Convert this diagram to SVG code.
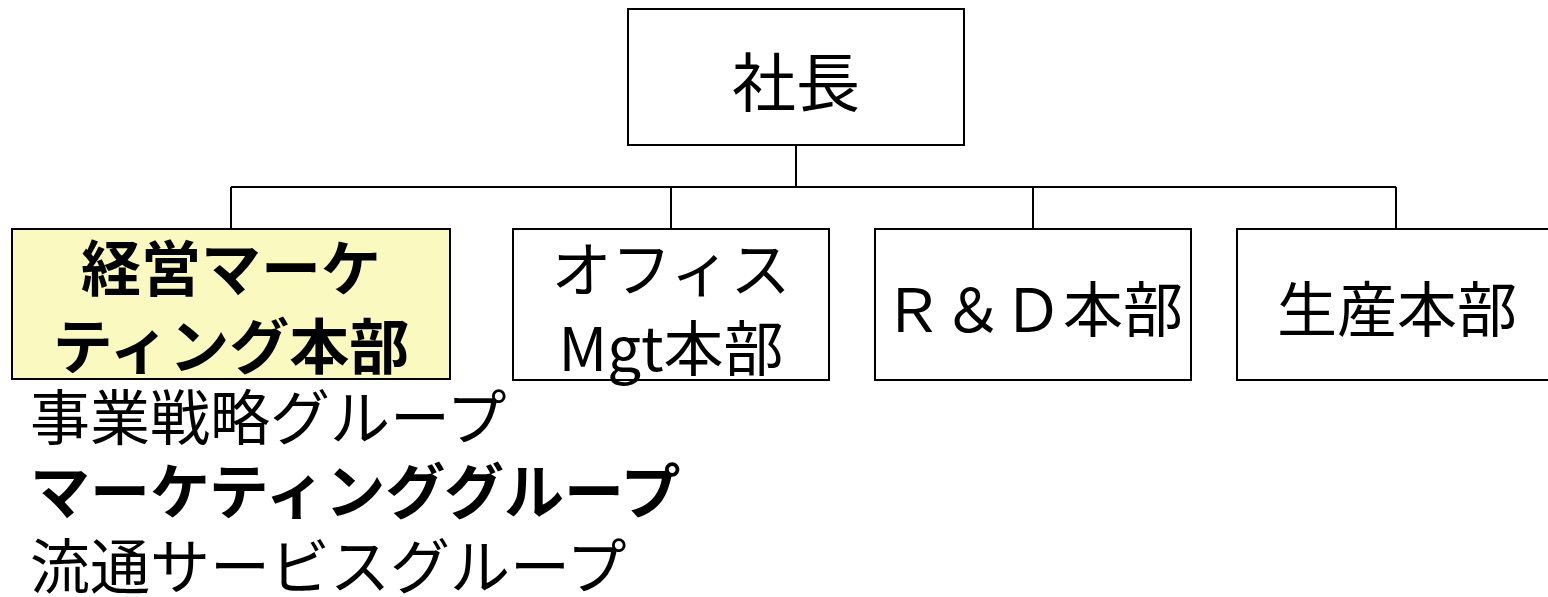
<svg xmlns="http://www.w3.org/2000/svg" width="1548" height="597" viewBox="0 0 1548 597">
<style>
.box{fill:#ffffff;stroke:#000;stroke-width:2}
.hl{fill:#fafac0}
.t{font-family:"Noto Sans CJK JP","Noto Sans CJK SC",sans-serif;font-size:60px;fill:#000;text-anchor:middle}
.l{font-family:"Noto Sans CJK JP","Noto Sans CJK SC",sans-serif;font-size:60px;fill:#000}
.b{font-weight:bold}
.c{fill:none;stroke:#000;stroke-width:2}
</style>
<rect width="1548" height="597" fill="#fff"/>
<g id="connectors">
<path class="c" d="M796 145V187M231 187H1396M231 187V229M671 187V229M1033 187V229M1396 187V229"/>
</g>
<g id="president">
<rect class="box" x="628" y="9" width="336" height="136"/>
<text class="t" x="796" y="106" style="font-size:64px">社長</text>
</g>
<g id="marketing">
<rect class="box hl" x="12" y="229" width="438" height="150"/>
<text class="t b" x="231" y="291">経営マーケ</text>
<text class="t b" x="231" y="369">ティング本部</text>
</g>
<g id="office">
<rect class="box" x="513" y="229" width="316" height="151"/>
<text class="t" x="671" y="292">オフィス</text>
<text class="t" x="671" y="371">Mgt本部</text>
</g>
<g id="rd">
<rect class="box" x="875" y="229" width="316" height="151"/>
<text class="t" x="1033" y="332">Ｒ＆Ｄ本部</text>
</g>
<g id="production">
<rect class="box" x="1237" y="229" width="320" height="151"/>
<text class="t" x="1397" y="332">生産本部</text>
</g>
<g id="groups">
<text class="l" x="30" y="440">事業戦略グループ</text>
<text class="l b" x="30" y="514">マーケティンググループ</text>
<text class="l" x="30" y="589">流通サービスグループ</text>
</g>
</svg>
